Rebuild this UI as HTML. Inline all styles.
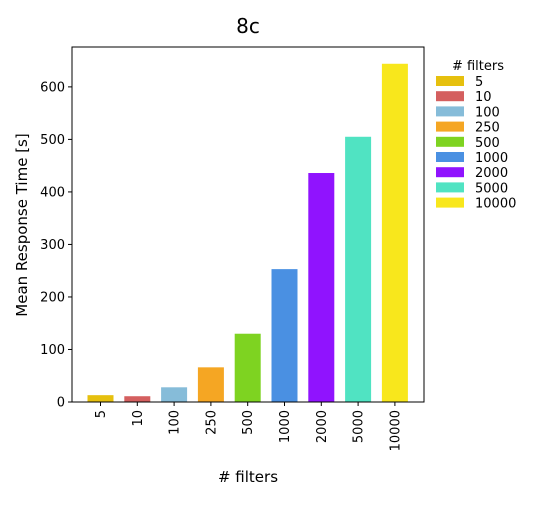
<!DOCTYPE html>
<html><head><meta charset="utf-8"><style>
body{margin:0;background:#fff;font-family:"Liberation Sans","DejaVu Sans",sans-serif}
svg text{font-family:"DejaVu Sans","Liberation Sans",sans-serif}
</style></head><body>
<svg id="c" width="540" height="500">
<text x="248" y="33" font-size="20" text-anchor="middle">8c</text>
<g id="plot"></g>
</svg>
<script>
const categories=["5","10","100","250","500","1000","2000","5000","10000"];
const values=[13,11,28,66,130,253,436,505,644];
const colors=["#e6c00e","#d45f5f","#86bcd9","#f5a623","#7ed321","#4a90e2","#9013fe","#50e3c2","#f8e71c"];
const yTicks=[0,100,200,300,400,500,600];
const L=72,R=424,T=47,B=402;
const ys=v=>B-v*0.5252;
const xs=i=>100.5+i*36.8;
const ns="http://www.w3.org/2000/svg";
const g=document.getElementById('plot');
function mk(t,a,txt){const e=document.createElementNS(ns,t);for(const k in a)e.setAttribute(k,a[k]);if(txt!==undefined)e.textContent=txt;g.appendChild(e);return e;}
values.forEach((v,i)=>{
 const r=mk('rect',{x:xs(i)-13,y:ys(v),width:26,height:B-ys(v),fill:colors[i]});
 
 
 const t=mk('line',{x1:xs(i),x2:xs(i),y1:B,y2:B+4,stroke:'#000'});
 const lb=mk('text',{x:0,y:0,'font-size':13,'text-anchor':'end',transform:`translate(${xs(i)+4.5},${B+8}) rotate(-90)`},categories[i]);
 
 
});
yTicks.forEach(v=>{
 mk('line',{x1:L-4,x2:L,y1:ys(v),y2:ys(v),stroke:'#000'});
 const t=mk('text',{x:L-7,y:ys(v)+4.5,'font-size':13,'text-anchor':'end'},v);
 
 
});
const fr=mk('rect',{x:L,y:T,width:R-L,height:B-T,fill:'none',stroke:'#000','stroke-width':1});


const xt=mk('text',{x:248,y:482,'font-size':15,'text-anchor':'middle'},'# filters');


const yt=mk('text',{x:0,y:0,'font-size':15,'text-anchor':'middle',transform:'translate(27,225) rotate(-90)'},'Mean Response Time [s]');


const lt=mk('text',{x:478,y:70,'font-size':13,'text-anchor':'middle'},'# filters');


categories.forEach((c,i)=>{
 const y=76+i*15.2;
 const r=mk('rect',{x:436,y:y,width:28,height:10,fill:colors[i]});
 
 
 const t=mk('text',{x:475,y:y+10,'font-size':13},c);
 
 
});
</script>
</body></html>
